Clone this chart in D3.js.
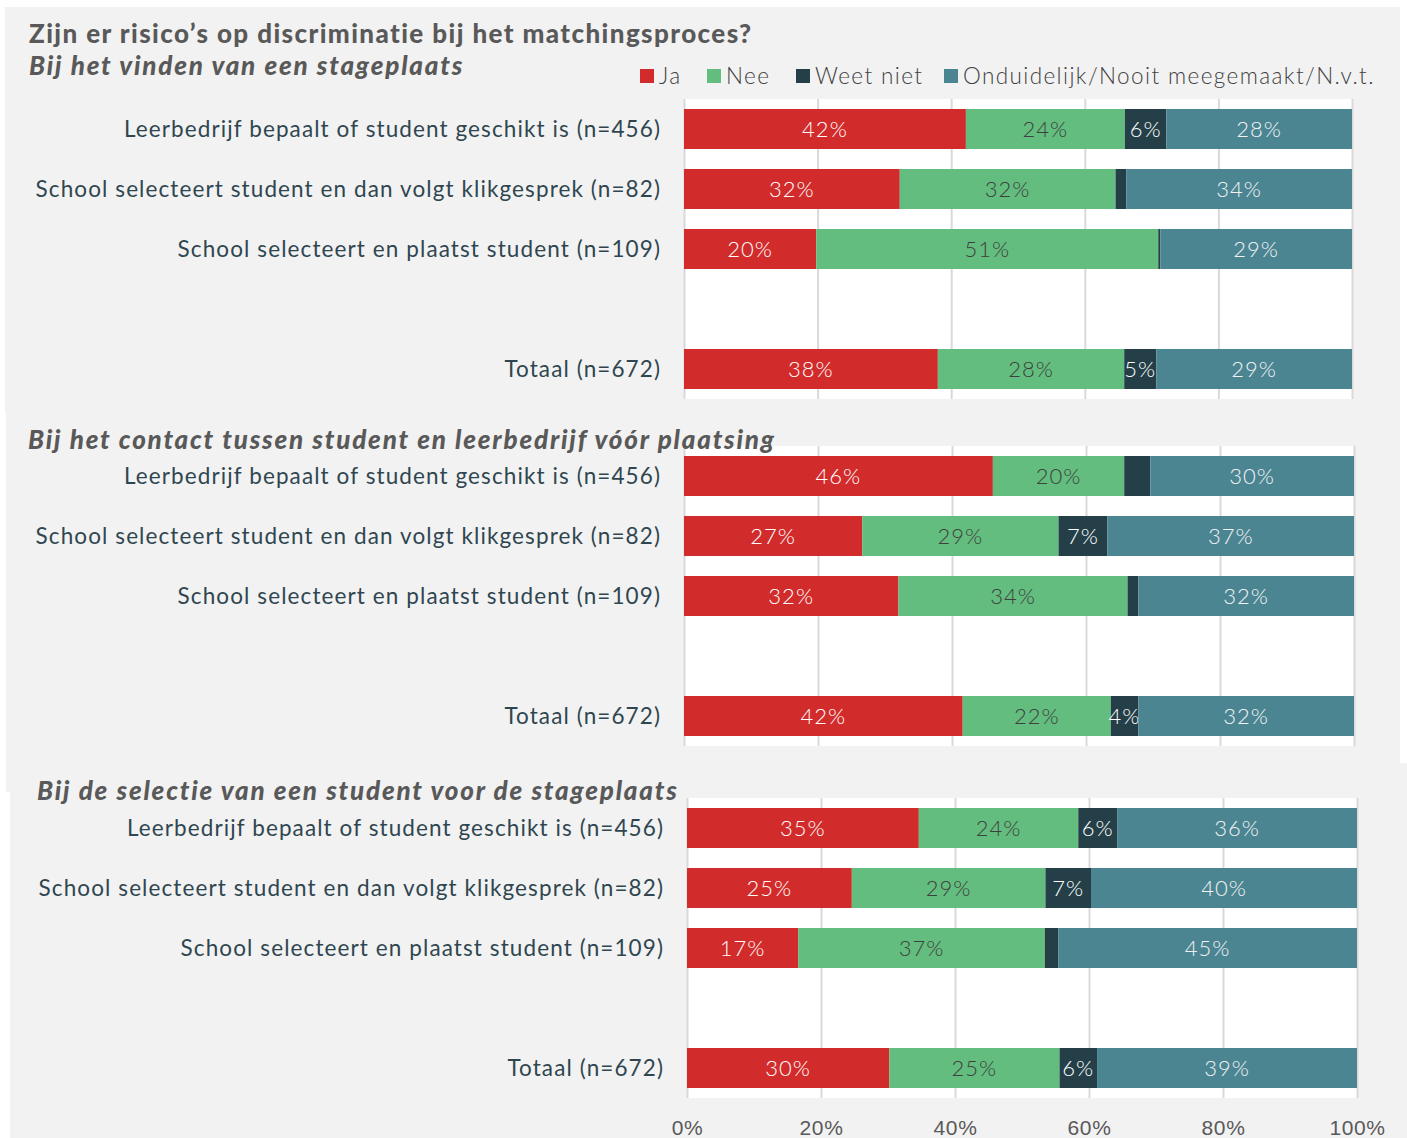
<!DOCTYPE html>
<html>
<head>
<meta charset="utf-8">
<script src="https://cdn.jsdelivr.net/npm/d3@7"></script>
<style>
  body { margin: 0; background: #fff; }
  svg { display: block; font-family: Lato, sans-serif; }
</style>
</head>
<body>
<div id="chart"></div>
<script>
// categories and series
const rows = [
  "Leerbedrijf bepaalt of student geschikt is (n=456)",
  "School selecteert student en dan volgt klikgesprek (n=82)",
  "School selecteert en plaatst student (n=109)",
  "Totaal (n=672)"
];
const series = ["Ja", "Nee", "Weet niet", "Onduidelijk/Nooit meegemaakt/N.v.t."];
const colors = ["#d22b2b", "#63bd7e", "#243f48", "#4b8592"];
const labelColors = ["#ffffff", "#3f3f3f", "#ffffff", "#f2f2f2"];
const xTicks = [0, 20, 40, 60, 80, 100];

const title = "Zijn er risico\u2019s op discriminatie bij het matchingsproces?";
const panelTitles = [
  "Bij het vinden van een stageplaats",
  "Bij het contact tussen student en leerbedrijf v\u00f3\u00f3r plaatsing",
  "Bij de selectie van een student voor de stageplaats"
];

// percentages per panel, one value per row
const vindenJa   = [42.2, 32.3, 19.8, 38.0];
const vindenNee  = [23.8, 32.3, 51.2, 27.9];
const vindenWeet = [6.2, 1.6, 0.3, 4.8];
const vindenOnd  = [27.8, 33.8, 28.7, 29.3];

const contactJa   = [46.1, 26.6, 32.0, 41.6];
const contactNee  = [19.6, 29.3, 34.2, 22.1];
const contactWeet = [3.9, 7.3, 1.6, 4.1];
const contactOnd  = [30.4, 36.8, 32.2, 32.2];

const selectieJa   = [34.6, 24.6, 16.6, 30.2];
const selectieNee  = [23.8, 28.9, 36.8, 25.4];
const selectieWeet = [5.8, 6.8, 2.0, 5.6];
const selectieOnd  = [35.8, 39.7, 44.6, 38.8];

const panelValues = [
  [vindenJa, vindenNee, vindenWeet, vindenOnd],
  [contactJa, contactNee, contactWeet, contactOnd],
  [selectieJa, selectieNee, selectieWeet, selectieOnd]
];

const W = 1407, H = 1138;
const svg = d3.select("#chart").append("svg")
  .attr("width", W)
  .attr("height", H);

// layout of the three stacked panels
const panels = [
  { bg: [5, 7, 1395, 406], top: 99, left: 684, right: 1352, labelX: 661, titleX: 29, titleY: 75 },
  { bg: [6, 413, 1394, 379], top: 446, left: 684, right: 1354, labelX: 661, titleX: 28, titleY: 449 },
  { bg: [10, 763, 1397, 375], top: 798, left: 687, right: 1357, labelX: 664, titleX: 37, titleY: 800 }
];
const plotH = 300;

panels.forEach(function(p) {
  svg.append("rect")
    .attr("x", p.bg[0]).attr("y", p.bg[1])
    .attr("width", p.bg[2]).attr("height", p.bg[3])
    .attr("fill", "#f2f2f2");
});

panels.forEach(function(p, pi) {
  const g = svg.append("g");

  const x = d3.scaleLinear().domain([0, 100]).range([p.left, p.right]);
  const y = d3.scaleBand()
    .domain([rows[0], rows[1], rows[2], "gap", rows[3]])
    .range([p.top, p.top + plotH])
    .paddingInner(1 / 3)
    .paddingOuter(1 / 6);

  g.append("rect")
    .attr("x", x(0)).attr("y", p.top)
    .attr("width", x(100) - x(0)).attr("height", plotH)
    .attr("fill", "#ffffff");

  const axis = g.append("g")
    .attr("transform", `translate(0,${p.top + plotH})`)
    .call(d3.axisBottom(x).tickValues(xTicks).tickFormat(d => d + "%")
      .tickSize(-plotH).tickPadding(22));
  axis.select(".domain").remove();
  axis.selectAll("line").attr("stroke", "#d9d9d9").attr("stroke-width", 2);
  axis.selectAll("text")
    .style("font-size", "21px")
    .style("font-weight", 300)
    .style("letter-spacing", "0.6px")
    .style("fill", "#595959")
    .style("display", pi === 2 ? null : "none");

  const vals = panelValues[pi];
  const table = rows.map((r, i) => {
    const o = { row: r };
    series.forEach((s, si) => { o[s] = vals[si][i]; });
    return o;
  });
  const stacked = d3.stack().keys(series)(table);

  stacked.forEach(function(layer, si) {
    const seg = g.selectAll(null)
      .data(layer)
      .enter();

    seg.append("rect")
      .attr("x", d => x(d[0]))
      .attr("y", d => y(d.data.row))
      .attr("width", d => x(d[1]) - x(d[0]))
      .attr("height", y.bandwidth())
      .attr("fill", colors[si]);

    seg.filter(d => d[1] - d[0] >= 4)
      .append("text")
      .attr("x", d => (x(d[0]) + x(d[1])) / 2)
      .attr("y", d => y(d.data.row) + y.bandwidth() / 2)
      .attr("dy", "0.36em")
      .attr("text-anchor", "middle")
      .style("font-size", "22px")
      .style("font-weight", 300)
      .style("letter-spacing", "1px")
      .style("fill", labelColors[si])
      .text(d => Math.round(d[1] - d[0]) + "%");
  });

  g.selectAll(".cat")
    .data(rows)
    .enter()
    .append("text")
    .attr("x", p.labelX)
    .attr("y", d => y(d) + y.bandwidth() / 2)
    .attr("dy", "0.36em")
    .attr("text-anchor", "end")
    .style("font-size", "22.5px")
    .style("font-weight", 400)
    .style("letter-spacing", "1.1px")
    .style("fill", "#2f4650")
    .text(d => d);

  g.append("text")
    .attr("x", p.titleX)
    .attr("y", p.titleY)
    .style("font-size", "26px")
    .style("font-weight", 900)
    .style("font-style", "italic")
    .style("letter-spacing", "1.8px")
    .style("fill", "#595959")
    .text(panelTitles[pi]);
});

svg.append("text")
  .attr("x", 29)
  .attr("y", 43)
  .style("font-size", "26px")
  .style("font-weight", 900)
  .style("letter-spacing", "1.4px")
  .style("fill", "#595959")
  .text(title);

// legend
const legendX = [640, 707, 796, 944];
const legend = svg.append("g");
series.forEach(function(s, i) {
  legend.append("rect")
    .attr("x", legendX[i]).attr("y", 69)
    .attr("width", 14).attr("height", 14)
    .attr("fill", colors[i]);
  legend.append("text")
    .attr("x", legendX[i] + 19)
    .attr("y", 76)
    .attr("dy", "0.36em")
    .style("font-size", "22.5px")
    .style("font-weight", 300)
    .style("letter-spacing", "1.4px")
    .style("fill", "#404040")
    .text(s);
});
</script>
</body>
</html>
